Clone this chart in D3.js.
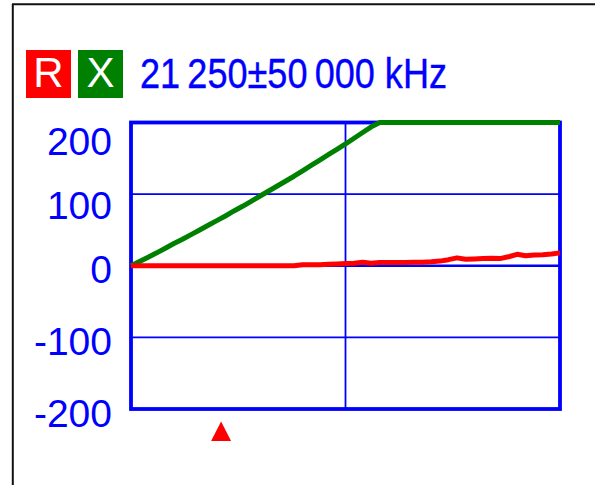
<!DOCTYPE html>
<html>
<head>
<meta charset="utf-8">
<script src="https://cdn.jsdelivr.net/npm/d3@7"></script>
<style>
  html, body { margin: 0; padding: 0; background: #fff; }
  svg { display: block; }
  text { font-family: "Liberation Sans", Arial, sans-serif; }
</style>
</head>
<body>
<script>
// Sweep: 101 points, index 0..100
const sweepPoints = [0, 100];
const sampleIndex = [0,2,4,6,8,10,12,14,16,18,20,22,24,26,28,30,32,34,36,38,40,42,44,46,48,50,
                     52,54,56,58,60,62,64,66,68,70,72,74,76,78,80,82,84,86,88,90,92,94,96,98,100];
// Resistance R (ohm)
const rValues = [0,0,0,0,0,0,0,0,0,0,0,0,0,0,0,0,0,0,0,0,1.5,1.5,1.5,2,2.5,3,
                 3.5,5,3.5,4.5,4.5,4.5,4.5,5,5,5.5,6.5,8.5,11,9,9.5,10,10.5,10,12.5,16,14,15,15.5,16.5,18];
// Reactance X (ohm); runs off the top of the scale past mid-sweep
const xValues = [0,6,12,18,24.5,31,37,43.5,50,56.5,63,69.5,76.5,83,90,97,104,111,118,125,132.5,140,147.5,155,162.5,170,
                 178,186,194,202,210,218,227,235,244,252,261,270,279,288,297,306,315,325,334,344,353,363,373,383,393];
const yTicks = [200, 100, 0, -100, -200];
const markerIndex = 21;
const seriesNames = ["R", "X"];
const headerLabel = "21\u2009250\u00B150\u2009000 kHz";

const W = 595, H = 485;
const BLUE = "#0000ff", RED = "#ff0000", GREEN = "#008000";

const svg = d3.select("body").append("svg").attr("width", W).attr("height", H);

// outer display edge
svg.append("line").attr("x1", 12.8).attr("x2", 12.8).attr("y1", 4).attr("y2", H)
  .attr("stroke", "#111").attr("stroke-width", 2);
svg.append("line").attr("x1", 12).attr("x2", W).attr("y1", 4.3).attr("y2", 4.3)
  .attr("stroke", "#111").attr("stroke-width", 2);

const x = d3.scaleLinear().domain(sweepPoints).range([131, 560]);
const y = d3.scaleLinear().domain([-200, 200]).range([409, 122.5]).clamp(true);

// header: legend boxes and frequency range
const legendColors = [RED, GREEN];
const lg = svg.append("g");
seriesNames.forEach((name, i) => {
  const bx = 26 + i * 52;
  lg.append("rect").attr("x", bx).attr("y", 50).attr("width", 45).attr("height", 48)
    .attr("fill", legendColors[i]);
  lg.append("text").attr("x", bx + 22.5).attr("y", 87).attr("text-anchor", "middle")
    .attr("fill", "#fff").attr("font-size", 42).text(name);
});
svg.append("text").attr("x", 140).attr("y", 87.5).attr("fill", BLUE)
  .attr("font-size", 43).attr("textLength", 307).attr("lengthAdjust", "spacingAndGlyphs")
  .attr("stroke", BLUE).attr("stroke-width", 0.4)
  .text(headerLabel);

// grid
const grid = svg.append("g");
yTicks.filter(v => v !== 200 && v !== -200).forEach(v => {
  grid.append("line").attr("x1", x(0)).attr("x2", x(100)).attr("y1", y(v)).attr("y2", y(v))
    .attr("stroke", BLUE).attr("stroke-width", v === 0 ? 2.6 : 1.6);
});
grid.append("line").attr("x1", x(50)).attr("x2", x(50)).attr("y1", y(200)).attr("y2", y(-200))
  .attr("stroke", BLUE).attr("stroke-width", 1.8);

// plot frame
svg.append("rect").attr("x", x(0)).attr("y", y(200))
  .attr("width", x(100) - x(0)).attr("height", y(-200) - y(200))
  .attr("fill", "none").attr("stroke", BLUE).attr("stroke-width", 3.8);

// y axis labels (plain hyphen for negatives)
const axis = d3.axisLeft(y).tickValues(yTicks).tickSize(0).tickPadding(0).tickFormat(d => String(d));
const ag = svg.append("g").attr("transform", "translate(112,0)").call(axis);
ag.select(".domain").remove();
ag.selectAll("text")
  .attr("dy", null)
  .attr("y", d => 17 + 0.075 * Math.max(0, d))
  .attr("fill", BLUE)
  .attr("font-size", 39)
  .attr("font-family", "'Liberation Sans', Arial, sans-serif");

// traces
const line = d3.line().x((d, i) => x(sampleIndex[i])).y(d => y(d));
svg.append("path").datum(xValues).attr("d", line)
  .attr("fill", "none").attr("stroke", GREEN).attr("stroke-width", 5).attr("stroke-linejoin", "round");
svg.append("path").datum(rValues).attr("d", line)
  .attr("fill", "none").attr("stroke", RED).attr("stroke-width", 5).attr("stroke-linejoin", "round");

// marker
const mx = x(markerIndex);
svg.append("path")
  .attr("d", d3.line()([[mx, 421.5], [mx + 10, 441], [mx - 10, 441]]) + "Z")
  .attr("fill", RED);
</script>
</body>
</html>
